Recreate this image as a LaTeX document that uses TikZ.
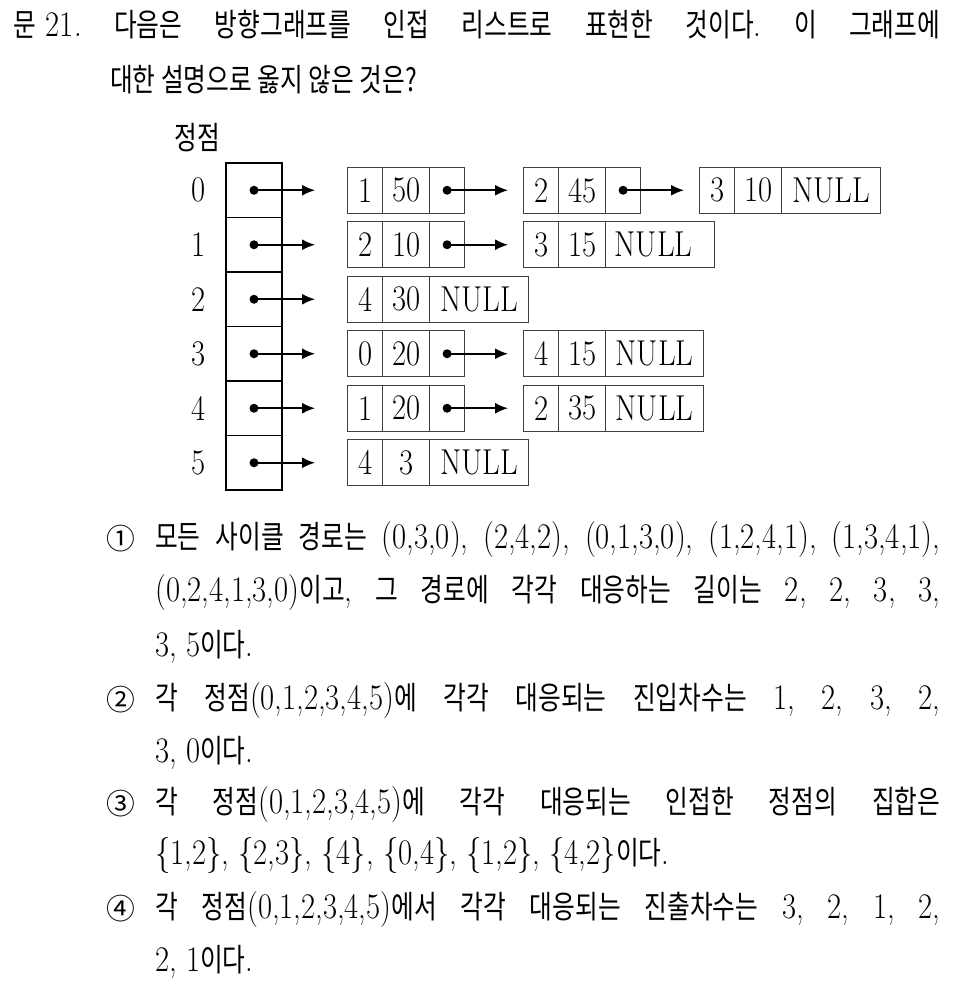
\documentclass[tikz,border=0pt]{standalone}
\usepackage{fontspec}
\setmainfont{Latin Modern Roman}[FakeStretch=0.85]
\newfontfamily\krfont{Noto Sans CJK KR}[FakeStretch=0.78,Scale=0.88]
\newfontfamily\circfont{Noto Sans CJK KR}[Scale=0.8]
\newcommand\kr[1]{{\krfont #1}}
\newcommand\circn[1]{{\circfont #1}}
\usetikzlibrary{arrows.meta}
\frenchspacing
\begin{document}
\begin{tikzpicture}[x=1pt,y=-1pt,
  font=\fontsize{36}{40}\selectfont,
  cell/.style={draw=black!75, line width=1.2pt, minimum height=46pt, inner sep=0pt, anchor=west},
  ca/.style={cell, minimum width=35pt},
  cb/.style={cell, minimum width=47pt},
  cnull/.style={cell, minimum width=99pt},
  vbox/.style={draw=black, line width=1.8pt, minimum width=56pt, minimum height=54.5pt, inner sep=0pt},
  ptr/.style={line width=1.6pt, -{Latex[length=13pt,width=11pt]}},
  dot/.style={fill=black},
  line/.style={anchor=base west, inner sep=0pt},
  lbl/.style={inner sep=0pt}
]
\useasboundingbox (0,0) rectangle (954,988);

% header
\node[line] (h1) at (13,36) {\makebox[927pt][s]{\kr{문}\hspace{10pt}21. \kr{다음은} \kr{방향그래프를} \kr{인접} \kr{리스트로} \kr{표현한} \kr{것이다}. \kr{이} \kr{그래프에}}};
\node[line] (h2) at (110,91) {\kr{대한 설명으로 옳지 않은 것은?}};
\node[anchor=base, inner sep=0pt] (jj) at (197,149) {\kr{정점}};

% vertex column
\foreach \i/\y in {0/190.25,1/244.75,2/299.25,3/353.75,4/408.25,5/462.75}{
  \node[vbox] (v\i) at (254,\y) {};
  \node[lbl] (l\i) at (199,\y) {\i};
}

% row 0
\node[ca] (r0a1) at (347,190.25) {1};
\node[cb] (r0a2) at (382,190.25) {50};
\node[ca] (r0a3) at (429,190.25) {};
\node[ca] (r0b1) at (523,190.25) {2};
\node[cb] (r0b2) at (558,190.25) {45};
\node[ca] (r0b3) at (605,190.25) {};
\node[ca] (r0c1) at (699,190.25) {3};
\node[cb] (r0c2) at (734,190.25) {10};
\node[cnull] (r0c3) at (781,190.25) {NULL};
% row 1
\node[ca] (r1a1) at (347,244.75) {2};
\node[cb] (r1a2) at (382,244.75) {10};
\node[ca] (r1a3) at (429,244.75) {};
\node[ca] (r1b1) at (523,244.75) {3};
\node[cb] (r1b2) at (558,244.75) {15};
\node[cell, text width=91pt, inner xsep=9pt, align=left] (r1b3) at (605,244.75) {NULL};
% row 2
\node[ca] (r2a1) at (347,299.25) {4};
\node[cb] (r2a2) at (382,299.25) {30};
\node[cnull] (r2a3) at (429,299.25) {NULL};
% row 3
\node[ca] (r3a1) at (347,353.75) {0};
\node[cb] (r3a2) at (382,353.75) {20};
\node[ca] (r3a3) at (429,353.75) {};
\node[ca] (r3b1) at (523,353.75) {4};
\node[cb] (r3b2) at (558,353.75) {15};
\node[cell, minimum width=98pt] (r3b3) at (605,353.75) {NULL};
% row 4
\node[ca] (r4a1) at (347,408.25) {1};
\node[cb] (r4a2) at (382,408.25) {20};
\node[ca] (r4a3) at (429,408.25) {};
\node[ca] (r4b1) at (523,408.25) {2};
\node[cb] (r4b2) at (558,408.25) {35};
\node[cell, minimum width=98pt] (r4b3) at (605,408.25) {NULL};
% row 5
\node[ca] (r5a1) at (347,462.75) {4};
\node[cb] (r5a2) at (382,462.75) {3};
\node[cnull] (r5a3) at (429,462.75) {NULL};

% pointers from vertex column
\foreach \i in {0,...,5}{
  \fill[dot] (v\i.center) circle (4.5pt);
  \draw[ptr, shorten >=32pt] (v\i.center) -- (r\i a1.west);
}
% pointers within lists
\foreach \s/\t in {r0a3/r0b1, r0b3/r0c1, r1a3/r1b1, r3a3/r3b1, r4a3/r4b1}{
  \fill[dot] (\s.center) circle (4.5pt);
  \draw[ptr, shorten >=15pt] (\s.center) -- (\t.west);
}

% options
\node[line] (o1) at (106,549) {\circn{①}};
\node[line] (o1a) at (155,548) {\makebox[785pt][s]{\kr{모든} \kr{사이클} \kr{경로는} (0,3,0), (2,4,2), (0,1,3,0), (1,2,4,1), (1,3,4,1),}};
\node[line] (o1b) at (155,601) {\makebox[785pt][s]{(0,2,4,1,3,0)\kr{이고}, \kr{그} \kr{경로에} \kr{각각} \kr{대응하는} \kr{길이는} 2, 2, 3, 3,}};
\node[line] (o1c) at (155,656) {3, 5\kr{이다}.};

\node[line] (o2) at (106,710) {\circn{②}};
\node[line] (o2a) at (155,709) {\makebox[785pt][s]{\kr{각} \kr{정점}(0,1,2,3,4,5)\kr{에} \kr{각각} \kr{대응되는} \kr{진입차수는} 1, 2, 3, 2,}};
\node[line] (o2b) at (155,762) {3, 0\kr{이다}.};

\node[line] (o3) at (106,814) {\circn{③}};
\node[line] (o3a) at (155,813) {\makebox[785pt][s]{\kr{각} \kr{정점}(0,1,2,3,4,5)\kr{에} \kr{각각} \kr{대응되는} \kr{인접한} \kr{정점의} \kr{집합은}}};
\node[line] (o3b) at (155,864) {\{1,2\}, \{2,3\}, \{4\}, \{0,4\}, \{1,2\}, \{4,2\}\kr{이다}.};

\node[line] (o4) at (106,919) {\circn{④}};
\node[line] (o4a) at (155,918) {\makebox[785pt][s]{\kr{각} \kr{정점}(0,1,2,3,4,5)\kr{에서} \kr{각각} \kr{대응되는} \kr{진출차수는} 3, 2, 1, 2,}};
\node[line] (o4b) at (155,971) {2, 1\kr{이다}.};
\end{tikzpicture}
\end{document}
